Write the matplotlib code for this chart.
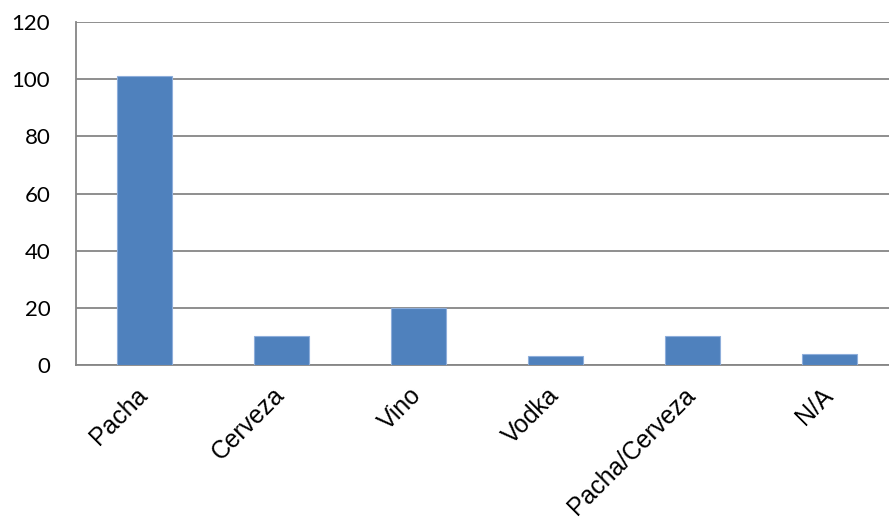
import matplotlib
matplotlib.use("Agg")
import matplotlib.pyplot as plt
import matplotlib.transforms as mtransforms
import numpy as np

categories = ["Pacha", "Cerveza", "Vino", "Vodka", "Pacha/Cerveza", "N/A"]
values = [101, 10, 20, 3, 10, 4]
y_ticks = [0, 20, 40, 60, 80, 100, 120]

fig = plt.figure(figsize=(8.89, 5.25), dpi=100)
ax = fig.add_axes([76 / 889, 160 / 525, 1 - 76 / 889, 343 / 525])

x = np.arange(len(categories))
ax.bar(x, values, width=0.4, color="#4F81BD", edgecolor="#8eaedb",
       linewidth=0.8, zorder=3)

ax.set_ylim(0, 120)
ax.set_xlim(-0.5, len(categories) - 0.5 - 9 / 137)
ax.set_yticks(y_ticks)
ax.set_yticklabels([str(v) for v in y_ticks], family="Lato", fontsize=16)
ax.yaxis.grid(True, color="#868686", linewidth=1.3, zorder=0)
ax.set_axisbelow(True)

# category labels, rotated and hung below each bar
ax.set_xticks(x)
ax.set_xticklabels([])
label_tf = ax.get_xaxis_transform() + mtransforms.ScaledTranslation(
    -9 / 100, -18 / 100, fig.dpi_scale_trans)
for xi, name in zip(x, categories):
    ax.text(xi, 0, name, rotation=45, ha="right", va="top",
            rotation_mode="anchor", family="Liberation Sans",
            fontsize=17.8, transform=label_tf, clip_on=False)

ax.tick_params(axis="both", length=0)
ax.tick_params(axis="y", pad=18.5)
for side in ("top", "right"):
    ax.spines[side].set_visible(False)
for side in ("left", "bottom"):
    ax.spines[side].set_color("#868686")
    ax.spines[side].set_linewidth(1.3)

fig.savefig("out.png", dpi=100)
